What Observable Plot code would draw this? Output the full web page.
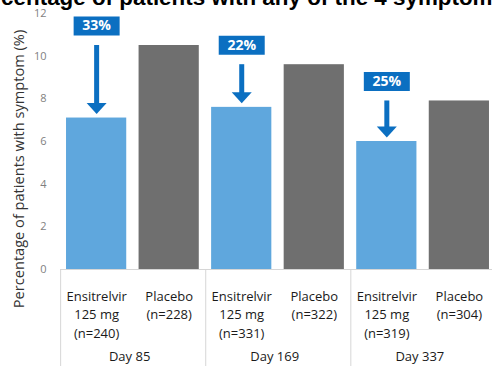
<!DOCTYPE html>
<html>
<head>
<meta charset="utf-8">
<script src="https://cdn.jsdelivr.net/npm/d3@7"></script>
<script src="https://cdn.jsdelivr.net/npm/@observablehq/plot@0.6"></script>
<style>
  html, body { margin: 0; padding: 0; background: #fff; overflow: hidden; }
  #wrap { position: relative; width: 492px; height: 366px; overflow: hidden; }
  #chart { position: absolute; left: 0; top: 0; }
  #title {
    position: absolute; left: -35px; top: -12px; white-space: nowrap;
    font: bold 22.4px/19px "Liberation Sans", Arial, sans-serif; color: #000;
  }
  #ytitle {
    position: absolute; left: 18px; top: 169px; white-space: nowrap;
    transform: translate(-50%, -50%) rotate(-90deg);
    font: 14.6px/16px "Open Sans", "Noto Sans", sans-serif; color: #333;
  }
</style>
</head>
<body>
<div id="wrap">
  <div id="chart"></div>
  <div id="ytitle"></div>
  <div id="title">Percentage of patients with any of the 4 symptoms</div>
</div>
<script>
// Visits and group sizes
const days = ["Day 85", "Day 169", "Day 337"];
const ensitrelvirN = [240, 331, 319];
const placeboN = [228, 322, 304];

// Share of patients with any of the 4 symptoms (%)
const ensitrelvirPct = [7.1, 7.6, 6.0];
const placeboPct = [10.5, 9.6, 7.9];

// Relative reduction versus placebo
const reductionLabels = ["33%", "22%", "25%"];

const yTicks = [0, 2, 4, 6, 8, 10, 12];
const yTitle = "Percentage of patients with symptom (%)";
document.getElementById("ytitle").textContent = yTitle;

// One row per bar
const bars = days.flatMap((day, i) => [
  {key: day + " E", day, arm: "Ensitrelvir", pct: ensitrelvirPct[i],
   label: `Ensitrelvir\n125 mg\n(n=${ensitrelvirN[i]})`},
  {key: day + " P", day, arm: "Placebo", pct: placeboPct[i],
   label: `Placebo\n(n=${placeboN[i]})`}
]);

// One arrow per visit, from placebo level down to ensitrelvir level
const arrows = days.map((day, i) => ({
  key: day + " E", day, from: placeboPct[i], to: ensitrelvirPct[i], label: reductionLabels[i]
}));

const blue = "#0b6fc1";

// Filled downward arrowhead whose tip sits just above the anchor point
const headDown = {
  draw(ctx) {
    ctx.moveTo(-10, -15);
    ctx.lineTo(10, -15);
    ctx.lineTo(0, -4);
    ctx.closePath();
  }
};
// Label box above the horizontal reference line
const labelBox = {
  draw(ctx) {
    ctx.rect(-23, -29, 46, 19);
  }
};

const chart = Plot.plot({
  width: 492,
  height: 366,
  marginTop: 13,
  marginBottom: 97,
  marginLeft: 60,
  marginRight: 0,
  style: {fontFamily: "'Open Sans', 'Noto Sans', sans-serif", background: "transparent"},
  x: {domain: bars.map(d => d.key), range: [60, 495], paddingInner: 0.17, paddingOuter: 0.083, round: false, axis: null},
  y: {domain: [0, 12], axis: null},
  color: {domain: ["Ensitrelvir", "Placebo"], range: ["#5fa7dd", "#6f6f6f"]},
  marks: [
    Plot.axisY({ticks: yTicks, tickSize: 0, tickPadding: 14, label: null, fontSize: 11, fill: "#7f7f7f"}),
    Plot.barY(bars, {x: "key", y: "pct", fill: "arm"}),
    // table frame below the bars
    Plot.ruleY([0], {stroke: "#d6d6d6", strokeWidth: 1}),
    Plot.ruleX(days.map(d => d + " E"), {x: d => d, y1: 0, y2: -5, dx: -36, stroke: "#d6d6d6", strokeWidth: 1}),
    // reduction arrows
    Plot.ruleY(arrows, {x: "key", y: "from", insetLeft: -2, insetRight: -12.5, stroke: blue, strokeWidth: 2}),
    Plot.ruleX(arrows, {x: "key", y1: "from", y2: "to", insetBottom: 13, stroke: blue, strokeWidth: 5}),
    Plot.dot(arrows, {x: "key", y: "to", symbol: headDown, fill: blue, stroke: null, r: 5}),
    Plot.dot(arrows, {x: "key", y: "from", symbol: labelBox, fill: blue, stroke: null, r: 5}),
    Plot.text(arrows, {x: "key", y: "from", text: "label", dy: -19.5, fill: "#fff", fontSize: 14, fontWeight: "bold"}),
    // arm labels and visit labels
    Plot.text(bars, {x: "key", y: 0, text: "label", lineAnchor: "top", dy: 18, lineHeight: 1.42, fontSize: 13, fill: "#1a1a1a"}),
    Plot.text(arrows, {x: "key", y: 0, text: "day", lineAnchor: "top", dy: 82, dx: 33, fontSize: 13, fill: "#1a1a1a"})
  ]
});

document.getElementById("chart").appendChild(chart);
</script>
</body>
</html>
